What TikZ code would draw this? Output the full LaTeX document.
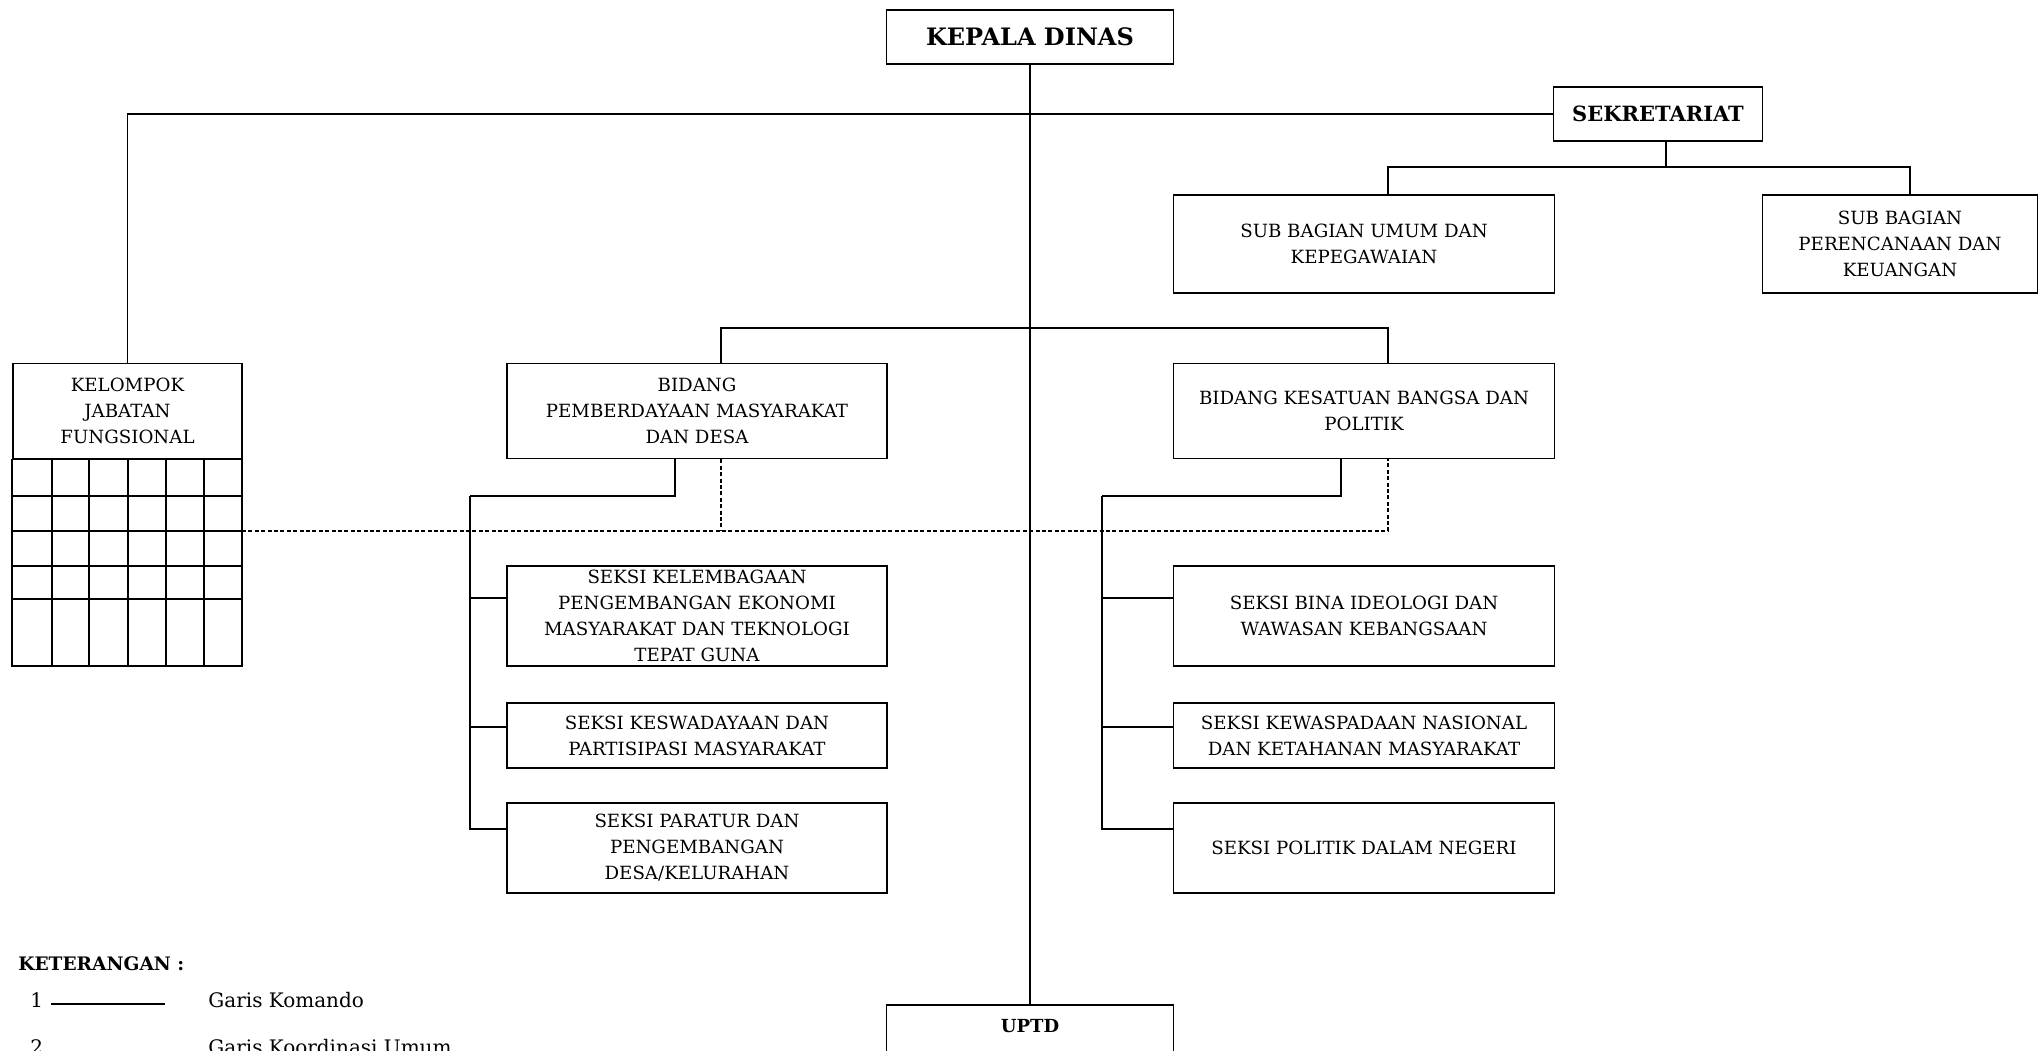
\documentclass[tikz,border=0pt]{standalone}
\usepackage{fontspec}
\setmainfont{DejaVu Serif}
\tikzset{
  unit/.style={draw, line width=0.85pt, align=center, inner sep=1pt,
    font=\fontsize{9.1}{13}\selectfont},
  boxsize/.style 2 args={minimum width=#1*0.5pt, minimum height=#2*0.5pt},
  komando/.style={line width=0.7pt},
  koordinasi/.style={line width=0.75pt, dash pattern=on 2pt off 1.2pt},
  legend/.style={anchor=west, inner sep=0pt, font=\fontsize{10}{12}\selectfont}
}

\begin{document}
\begin{tikzpicture}[x=0.5pt,y=-0.5pt]
\useasboundingbox (0,0) rectangle (2040,1050);
\clip (0,0) rectangle (2040,1050);

% pimpinan
\node [unit, boxsize={287}{54}, font=\fontsize{12}{13}\selectfont\bfseries] (kepala) at (1030,37) {KEPALA DINAS};
\node [unit, boxsize={209}{54}, font=\fontsize{10.5}{13}\selectfont\bfseries] (sekr) at (1658,114) {SEKRETARIAT};
\node [unit, boxsize={381}{98}] (subum) at (1364,244) {SUB BAGIAN UMUM DAN\\KEPEGAWAIAN};
\node [unit, boxsize={275}{98}] (subpk) at (1900,244) {SUB BAGIAN\\PERENCANAAN DAN\\KEUANGAN};

% bidang
\node [unit, boxsize={380}{95}] (bid1) at (697,411) {BIDANG\\PEMBERDAYAAN MASYARAKAT\\DAN DESA};
\node [unit, boxsize={381}{95}] (bid2) at (1364,411) {BIDANG KESATUAN BANGSA DAN\\POLITIK};
\node [unit, boxsize={229}{95}] (kjf) at (127.5,411) {KELOMPOK\\JABATAN\\FUNGSIONAL};

% seksi
\node [unit, boxsize={380}{100}] (s11) at (697,616) {SEKSI KELEMBAGAAN\\PENGEMBANGAN EKONOMI\\MASYARAKAT DAN TEKNOLOGI\\TEPAT GUNA};
\node [unit, boxsize={380}{65}] (s12) at (697,735.5) {SEKSI KESWADAYAAN DAN\\PARTISIPASI MASYARAKAT};
\node [unit, boxsize={380}{90}] (s13) at (697,848) {SEKSI PARATUR DAN\\PENGEMBANGAN\\DESA/KELURAHAN};
\node [unit, boxsize={381}{100}] (s21) at (1364,616) {SEKSI BINA IDEOLOGI DAN\\WAWASAN KEBANGSAAN};
\node [unit, boxsize={381}{65}] (s22) at (1364,735.5) {SEKSI KEWASPADAAN NASIONAL\\DAN KETAHANAN MASYARAKAT};
\node [unit, boxsize={381}{90}] (s23) at (1364,848) {SEKSI POLITIK DALAM NEGERI};

\node [unit, anchor=north, minimum width=143.5pt, text depth=40pt, inner sep=7.5pt, font=\fontsize{9}{13}\selectfont\bfseries] (uptd) at (1030,1004) {UPTD};

% kotak jabatan fungsional
\draw [line width=0.85pt] (kjf.south west) rectangle (242,666);
\foreach \gx in {52,89,128,166,204}
  \draw [line width=0.85pt] (\gx,459) -- (\gx,666);
\foreach \gy in {496,531,566,599}
  \draw [line width=0.85pt] (13,\gy) -- (242,\gy);

% garis komando
\coordinate (subum-in) at (1388,167);
\coordinate (subpk-in) at (1910,167);
\coordinate (bid1-in) at (721,328);
\coordinate (bid2-in) at (1388,328);
\coordinate (tr1) at (675,496);
\coordinate (tr1b) at (470,496);
\coordinate (tr2) at (1341,496);
\coordinate (tr2b) at (1102,496);

\draw [komando] (kepala.south) -- (uptd.north);
\draw [komando] (kjf.north) |- (sekr.west);
\draw [komando] ([xshift=4pt]sekr.south) -- ([xshift=4pt]sekr.south |- subum-in);
\draw [komando] (subum.north -| subum-in) -- (subum-in) -- (subpk-in) -- (subpk.north -| subpk-in);
\draw [komando] (bid1.north -| bid1-in) -- (bid1-in) -- (bid2-in) -- (bid2.north -| bid2-in);
\draw [komando] (bid1.south -| tr1) -- (tr1) -- (tr1b);
\draw [komando] (bid2.south -| tr2) -- (tr2) -- (tr2b);
\foreach \s/\dy in {s11/9,s12/4.25,s13/9.5}
  \draw [komando] ([yshift=\dy pt]\s.west) -| (tr1b);
\foreach \s/\dy in {s21/9,s22/4.25,s23/9.5}
  \draw [komando] ([yshift=\dy pt]\s.west) -| (tr2b);

% garis koordinasi
\coordinate (kjf-e) at (242,531);
\draw [koordinasi] (kjf-e) -- (bid2-in |- kjf-e) -- (bid2.south -| bid2-in);
\draw [koordinasi] (bid1.south -| bid1-in) -- (bid1-in |- kjf-e);

% keterangan
\node [legend, font=\fontsize{9.3}{12}\selectfont\bfseries] (ket) at (18,964) {KETERANGAN :};
\node [legend] (n1) at (30,1000) {1};
\node [legend] (l1) at (208,1000) {Garis Komando};
\coordinate (k1a) at (51,1004);
\coordinate (k1b) at (165,1004);
\draw [komando] (k1a) -- (k1b);
\node [legend] (n2) at (30,1047) {2};
\node [legend] (l2) at (208,1047) {Garis Koordinasi Umum};
\end{tikzpicture}
\end{document}
